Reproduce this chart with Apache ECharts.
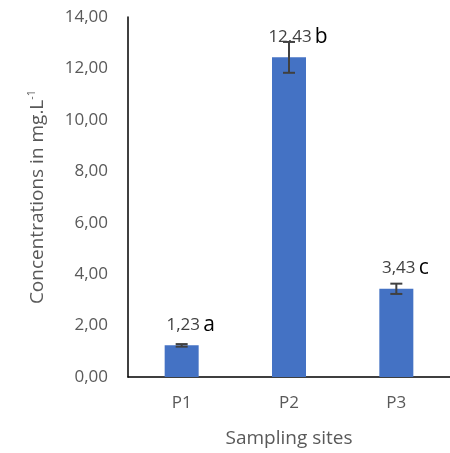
<!DOCTYPE html>
<html>
<head>
<meta charset="utf-8">
<script src="https://cdn.jsdelivr.net/npm/echarts@6/dist/echarts.min.js"></script>
<style>
  html, body { margin: 0; padding: 0; background: #fff; }
  #chart { width: 450px; height: 453px; }
</style>
</head>
<body>
<div id="chart"></div>
<script>
// Sampling sites and measured concentrations (mg/L)
const sites = ['P1', 'P2', 'P3'];
const concentrations = [1.23, 12.43, 3.43];
const errors = [0.05, 0.60, 0.20];
const groupLetters = ['a', 'b', 'c'];
const yTicks = { min: 0, max: 14, interval: 2 };

const FONT = 'Open Sans';
const comma = (v) => v.toFixed(2).replace('.', ',');

const chart = echarts.init(document.getElementById('chart'), null, { renderer: 'canvas' });

chart.setOption({
  animation: false,
  textStyle: { fontFamily: FONT },
  grid: { left: 128, right: -3, top: 17, bottom: 76 },
  xAxis: {
    type: 'category',
    data: sites,
    axisLine: { lineStyle: { color: '#000', width: 1.5 } },
    axisTick: { show: false },
    axisLabel: { color: '#595959', fontSize: 17, margin: 18, fontFamily: FONT },
    name: 'Sampling sites',
    nameLocation: 'middle',
    nameGap: 52,
    nameTextStyle: { color: '#595959', fontSize: 19, fontFamily: FONT }
  },
  yAxis: {
    type: 'value',
    min: yTicks.min,
    max: yTicks.max,
    interval: yTicks.interval,
    axisLine: { show: true, lineStyle: { color: '#000', width: 1.5 } },
    axisTick: { show: false },
    splitLine: { show: false },
    axisLabel: {
      color: '#595959', fontSize: 17, margin: 20, fontFamily: FONT,
      formatter: (v) => comma(v)
    },
    name: '{t|Concentrations in mg.L}{s|-1}',
    nameLocation: 'middle',
    nameGap: 79,
    nameTextStyle: {
      rich: {
        t: { color: '#595959', fontSize: 19, fontFamily: FONT },
        s: { color: '#595959', fontSize: 11, fontFamily: FONT, verticalAlign: 'top', padding: [0, 0, 12, 0] }
      }
    }
  },
  series: [
    {
      type: 'bar',
      data: concentrations,
      barWidth: 34,
      itemStyle: { color: '#4472C4' },
      label: {
        show: true,
        position: 'top',
        distance: 10,
        offset: [9, 0],
        formatter: (p) => '{v|' + comma(p.value) + '} {l|' + groupLetters[p.dataIndex] + '}',
        rich: {
          v: { color: '#404040', fontSize: 17, fontFamily: FONT },
          l: { color: '#000', fontSize: 21, fontFamily: FONT }
        }
      },
      z: 2
    },
    {
      // Standard-deviation whiskers
      type: 'custom',
      data: concentrations.map((v, i) => [i, v - errors[i], v + errors[i]]),
      z: 5,
      renderItem: (params, api) => {
        const lo = api.coord([api.value(0), api.value(1)]);
        const hi = api.coord([api.value(0), api.value(2)]);
        const x = lo[0];
        const cap = 6;
        const style = { stroke: '#404040', lineWidth: 2 };
        return {
          type: 'group',
          children: [
            { type: 'line', shape: { x1: x, y1: lo[1], x2: x, y2: hi[1] }, style },
            { type: 'line', shape: { x1: x - cap, y1: lo[1], x2: x + cap, y2: lo[1] }, style },
            { type: 'line', shape: { x1: x - cap, y1: hi[1], x2: x + cap, y2: hi[1] }, style }
          ]
        };
      }
    }
  ]
});
</script>
</body>
</html>
